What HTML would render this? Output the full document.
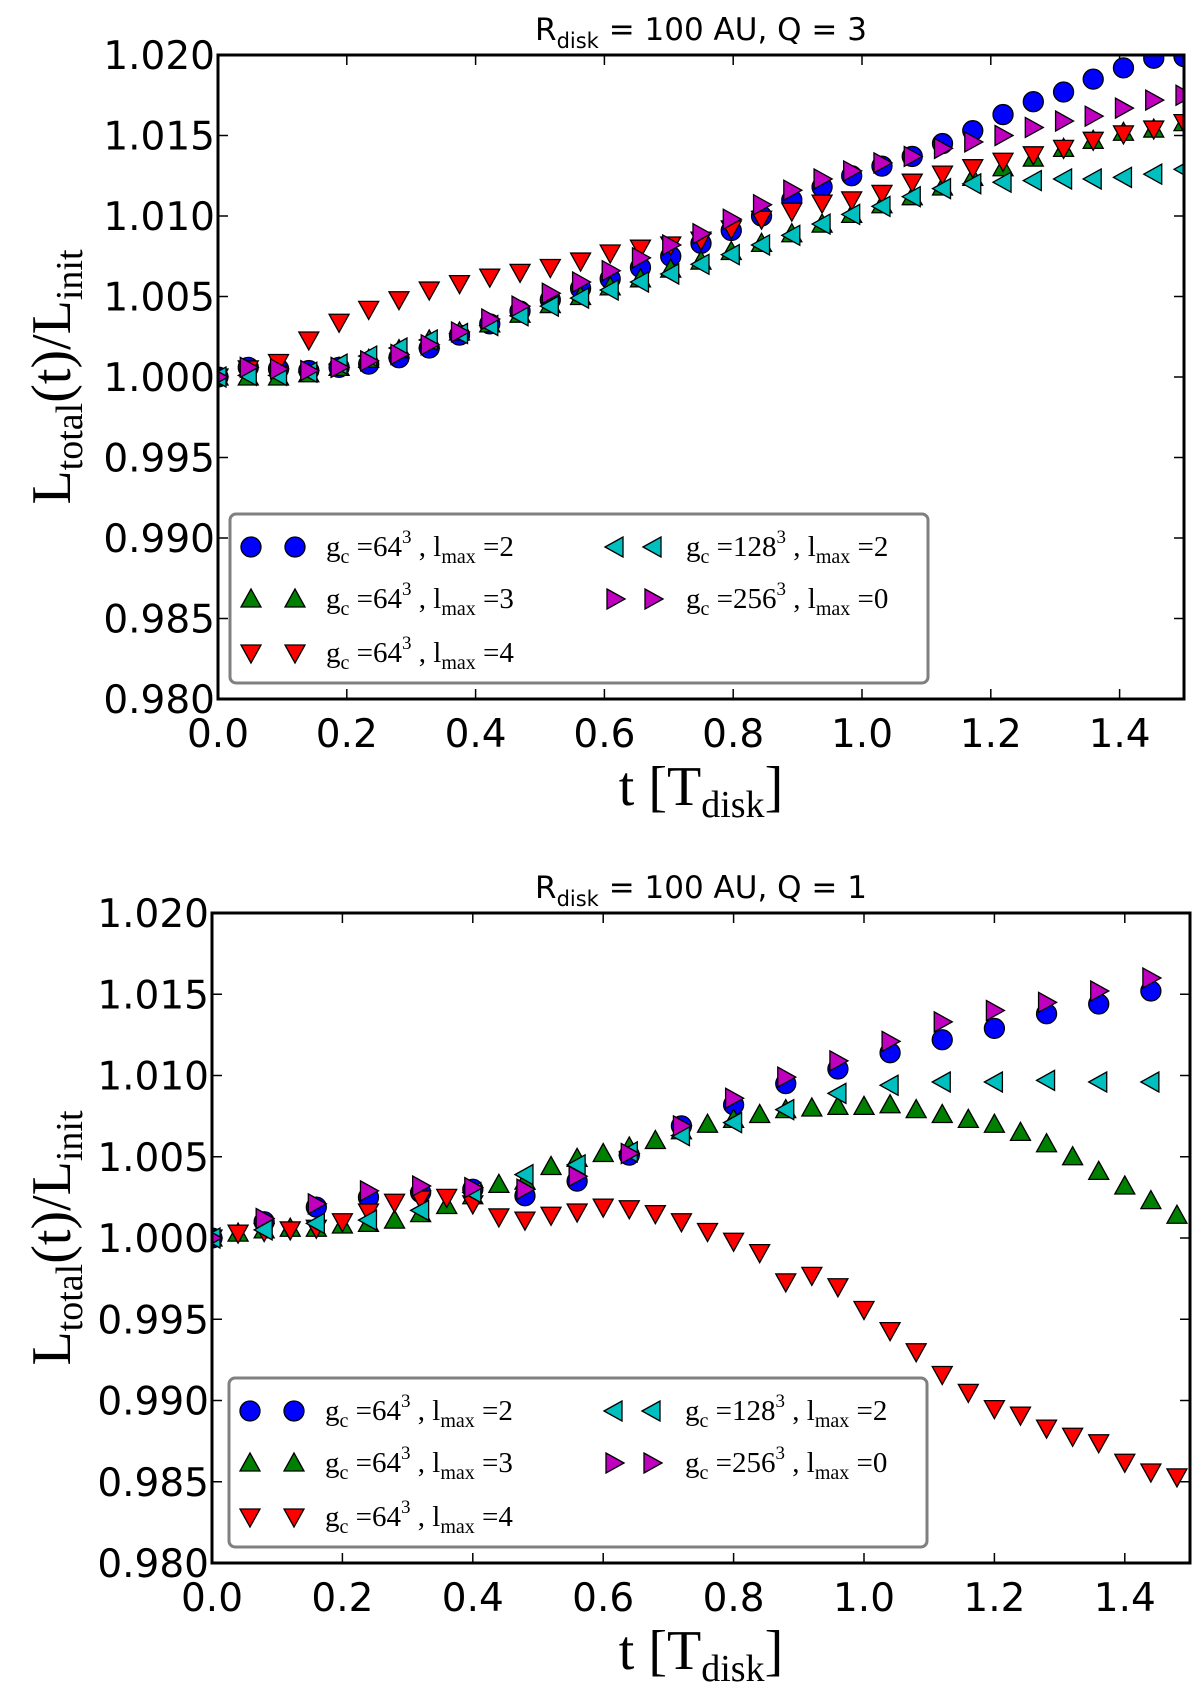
<!DOCTYPE html>
<html><head><meta charset="utf-8">
<style>
html,body{margin:0;padding:0;background:#fff;}
svg{display:block;}
.tick{font-family:"DejaVu Sans","Liberation Sans",sans-serif;font-size:39px;fill:#000;}
.ttl{font-family:"DejaVu Sans","Liberation Sans",sans-serif;font-size:31px;fill:#000;}
.ser{font-family:"Liberation Serif","DejaVu Serif",serif;fill:#000;}
</style></head>
<body>
<svg id="fig" width="1200" height="1687" viewBox="0 0 1200 1687" xmlns="http://www.w3.org/2000/svg"></svg>
<script>
// ---- data ----
const yTicks = [0.980,0.985,0.990,0.995,1.000,1.005,1.010,1.015,1.020];
const xTicks = [0.0,0.2,0.4,0.6,0.8,1.0,1.2,1.4];
// Panel A (Q=3): time and deviation (L-1)*1000
const tA = [0,0.047,0.094,0.141,0.188,0.234,0.281,0.328,0.375,0.422,0.469,0.516,0.563,0.609,0.656,0.703,0.75,0.797,0.844,0.891,0.938,0.984,1.031,1.078,1.125,1.172,1.219,1.266,1.313,1.359,1.406,1.453,1.5];
const blueA = [0,0.6,0.5,0.4,0.6,0.8,1.2,1.8,2.6,3.3,4.1,4.8,5.5,6.1,6.8,7.5,8.3,9.1,10.0,11.0,11.8,12.5,13.1,13.7,14.5,15.3,16.3,17.1,17.7,18.5,19.2,19.8,19.9];
const greenA = [0,0,0,0.2,0.6,1.1,1.7,2.3,2.8,3.3,3.9,4.5,5.0,5.6,6.1,6.7,7.2,7.8,8.3,8.9,9.5,10.1,10.7,11.2,11.8,12.4,13.0,13.6,14.2,14.7,15.2,15.4,15.8];
const redA = [0,0.5,0.9,2.3,3.4,4.2,4.8,5.4,5.8,6.2,6.5,6.8,7.2,7.7,8.0,8.2,8.5,9.2,9.8,10.3,10.8,11.0,11.4,12.1,12.6,13.0,13.4,13.8,14.2,14.7,15.1,15.4,15.8];
const cyanA = [0,0.1,0.1,0.3,0.8,1.3,1.8,2.3,2.7,3.2,3.8,4.4,4.9,5.4,5.9,6.4,7.0,7.6,8.2,8.8,9.5,10.1,10.6,11.2,11.7,12.0,12.1,12.2,12.3,12.3,12.4,12.6,12.9];
const magA = [0,0.6,0.5,0.4,0.6,1.0,1.4,2.0,2.8,3.6,4.4,5.2,5.9,6.6,7.4,8.2,8.9,9.8,10.7,11.6,12.3,12.8,13.3,13.7,14.2,14.6,15.0,15.5,15.9,16.2,16.7,17.2,17.5];
// Panel B (Q=1)
const tB1 = [0,0.04,0.08,0.12,0.16,0.2,0.24,0.28,0.32,0.36,0.4,0.44,0.48,0.52,0.56,0.6,0.64,0.68,0.72,0.76,0.8,0.84,0.88,0.92,0.96,1.0,1.04,1.08,1.12,1.16,1.2,1.24,1.28,1.32,1.36,1.4,1.44,1.48];
const tB2 = [0,0.08,0.16,0.24,0.32,0.4,0.48,0.56,0.64,0.72,0.8,0.88,0.96,1.04,1.12,1.2,1.28,1.36,1.44];
const blueB = [0,1.0,1.9,2.5,2.8,3.0,2.6,3.5,5.1,6.9,8.2,9.5,10.4,11.4,12.2,12.9,13.8,14.4,15.2];
const magB = [0,1.2,2.1,2.9,3.2,3.1,3.0,3.8,5.2,6.9,8.6,9.9,10.9,12.1,13.3,14.0,14.5,15.2,16.0];
const cyanB = [0,0.5,0.9,1.1,1.7,2.8,3.9,4.5,5.3,6.3,7.1,7.9,8.9,9.4,9.6,9.6,9.7,9.6,9.6];
const greenB = [0,0.3,0.5,0.6,0.6,0.8,0.9,1.1,1.5,2.0,2.6,3.3,3.5,4.4,4.9,5.2,5.6,6.0,6.6,7.0,7.3,7.6,7.9,8.0,8.1,8.1,8.2,7.9,7.6,7.3,7.0,6.5,5.8,5.0,4.1,3.2,2.3,1.4];
const redB = [0,0.3,0.4,0.5,0.6,1.0,1.6,2.2,2.4,2.5,2.1,1.3,1.1,1.4,1.6,1.9,1.8,1.5,1.0,0.4,-0.2,-0.9,-2.7,-2.3,-3.0,-4.4,-5.7,-7.0,-8.4,-9.5,-10.5,-10.9,-11.7,-12.2,-12.6,-13.8,-14.4,-14.7];

const NS="http://www.w3.org/2000/svg";
const svg=document.getElementById('fig');
function el(tag,attrs,parent){const e=document.createElementNS(NS,tag);for(const k in attrs)e.setAttribute(k,attrs[k]);(parent||svg).appendChild(e);return e;}

function marker(g,kind,cx,cy,col){
  const r=10;let e;
  if(kind==='o'){e=el('circle',{cx:cx,cy:cy,r:r,fill:col,stroke:'#000','stroke-width':1.3},g);}
  else{
    let p;
    if(kind==='^')p=[[cx,cy-r],[cx-r,cy+r*0.8],[cx+r,cy+r*0.8]];
    if(kind==='v')p=[[cx,cy+r],[cx-r,cy-r*0.8],[cx+r,cy-r*0.8]];
    if(kind==='<')p=[[cx-r,cy],[cx+r*0.8,cy-r],[cx+r*0.8,cy+r]];
    if(kind==='>')p=[[cx+r,cy],[cx-r*0.8,cy-r],[cx-r*0.8,cy+r]];
    e=el('polygon',{points:p.map(q=>q.join(',')).join(' '),fill:col,stroke:'#000','stroke-width':1.3},g);
  }
  return e;
}

function legendLabel(g,x,y,gc,lm){
  const t=el('text',{x:x,y:y,'font-size':29,class:'ser'},g);
  t.innerHTML='g<tspan font-size="20" dy="7">c</tspan><tspan dy="-7"> =</tspan>'+gc+'<tspan font-size="19" dy="-13">3</tspan><tspan dy="13"> , l</tspan><tspan font-size="20" dy="7">max</tspan><tspan dy="-7"> =</tspan>'+lm;
  return t;
}

function panel(o){
  const g=el('g',{});
  
  
  const X=v=>o.x0+(v/1.5)*(o.x1-o.x0);
  const Y=v=>o.y1-(v-0.98)/0.04*(o.y1-o.y0);
  const D=d=>Y(1+d/1000);
  const tt=el('text',{x:(o.x0+o.x1)/2,y:o.y0-15,'text-anchor':'middle',class:'ttl'},g);
  tt.innerHTML='R<tspan font-size="21" dy="8">disk</tspan><tspan dy="-8"> = 100 AU, Q = '+o.q+'</tspan>';
  
  
  const cid='clip'+o.q;
  const cp=el('clipPath',{id:cid},g);el('rect',{x:o.x0,y:o.y0,width:o.x1-o.x0,height:o.y1-o.y0},cp);
  yTicks.forEach(v=>{
    const y=Y(v);
    el('line',{x1:o.x0,x2:o.x0+10,y1:y,y2:y,stroke:'#000','stroke-width':1.5},g);
    el('line',{x1:o.x1,x2:o.x1-10,y1:y,y2:y,stroke:'#000','stroke-width':1.5},g);
    const t=el('text',{x:o.x0-3,y:y+14,'text-anchor':'end',class:'tick'},g);t.textContent=v.toFixed(3);
    
    
  });
  xTicks.forEach(v=>{
    const x=X(v);
    el('line',{x1:x,x2:x,y1:o.y1,y2:o.y1-10,stroke:'#000','stroke-width':1.5},g);
    el('line',{x1:x,x2:x,y1:o.y0,y2:o.y0+10,stroke:'#000','stroke-width':1.5},g);
    const t=el('text',{x:x,y:o.y1+48,'text-anchor':'middle',class:'tick'},g);t.textContent=v.toFixed(1);
    
    
  });
  const series=o.series;
  const mg=el('g',{'clip-path':'url(#'+cid+')'},g);
  series.forEach(s=>{
    const sg=el('g',{},mg);
    
    
    s.t.forEach((tv,i)=>{
      const m=marker(sg,s.k,X(tv),D(s.v[i]),s.c);
      
      
    });
  });
  el('rect',{x:o.x0,y:o.y0,width:o.x1-o.x0,height:o.y1-o.y0,fill:'none',stroke:'#000','stroke-width':3},g);
  const cy=(o.y0+o.y1)/2;
  const yl=el('text',{x:0,y:0,'text-anchor':'middle',class:'ser','font-size':56,transform:'translate(70,'+cy+') rotate(-90)'},g);
  yl.innerHTML='L<tspan font-size="38" dy="12">total</tspan><tspan dy="-12">(t)/L</tspan><tspan font-size="38" dy="12">init</tspan>';
  
  
  const xl=el('text',{x:(o.x0+o.x1)/2,y:o.y1+106,'text-anchor':'middle',class:'ser','font-size':56},g);
  xl.innerHTML='t [T<tspan font-size="38" dy="12">disk</tspan><tspan dy="-12">]</tspan>';
  
  
  const lg=el('g',{},g);
  
  
  el('rect',{x:o.lx,y:o.ly,width:698,height:169,rx:6,fill:'#fff',stroke:'#808080','stroke-width':3},lg);
  const cols=[[o.lx+21,o.lx+65,o.lx+96],[o.lx+385,o.lx+423,o.lx+456]];
  const rows=[o.ly+33,o.ly+85,o.ly+139];
  const gcs=['64','64','64','128','256'],lms=['2','3','4','2','0'];
  series.forEach((s,i)=>{
    const c=cols[i<3?0:1],r=rows[i<3?i:i-3];
    const eg=el('g',{},lg);
    
    
    marker(eg,s.k,c[0],r,s.c);marker(eg,s.k,c[1],r,s.c);
    legendLabel(eg,c[2],r+9,gcs[i],lms[i]);
  });
}

panel({name:'panel-q3',q:3,x0:218,x1:1184,y0:55,y1:699,lx:230,ly:514,series:[
  {id:'gc64-l2',k:'o',c:'#0000ff',t:tA,v:blueA},
  {id:'gc64-l3',k:'^',c:'#008000',t:tA,v:greenA},
  {id:'gc64-l4',k:'v',c:'#ff0000',t:tA,v:redA},
  {id:'gc128-l2',k:'<',c:'#00bfbf',t:tA,v:cyanA},
  {id:'gc256-l0',k:'>',c:'#bf00bf',t:tA,v:magA}]});
panel({name:'panel-q1',q:1,x0:212,x1:1190,y0:913,y1:1563,lx:229,ly:1378,series:[
  {id:'gc64-l2',k:'o',c:'#0000ff',t:tB2,v:blueB},
  {id:'gc64-l3',k:'^',c:'#008000',t:tB1,v:greenB},
  {id:'gc64-l4',k:'v',c:'#ff0000',t:tB1,v:redB},
  {id:'gc128-l2',k:'<',c:'#00bfbf',t:tB2,v:cyanB},
  {id:'gc256-l0',k:'>',c:'#bf00bf',t:tB2,v:magB}]});
</script>
</body></html>
